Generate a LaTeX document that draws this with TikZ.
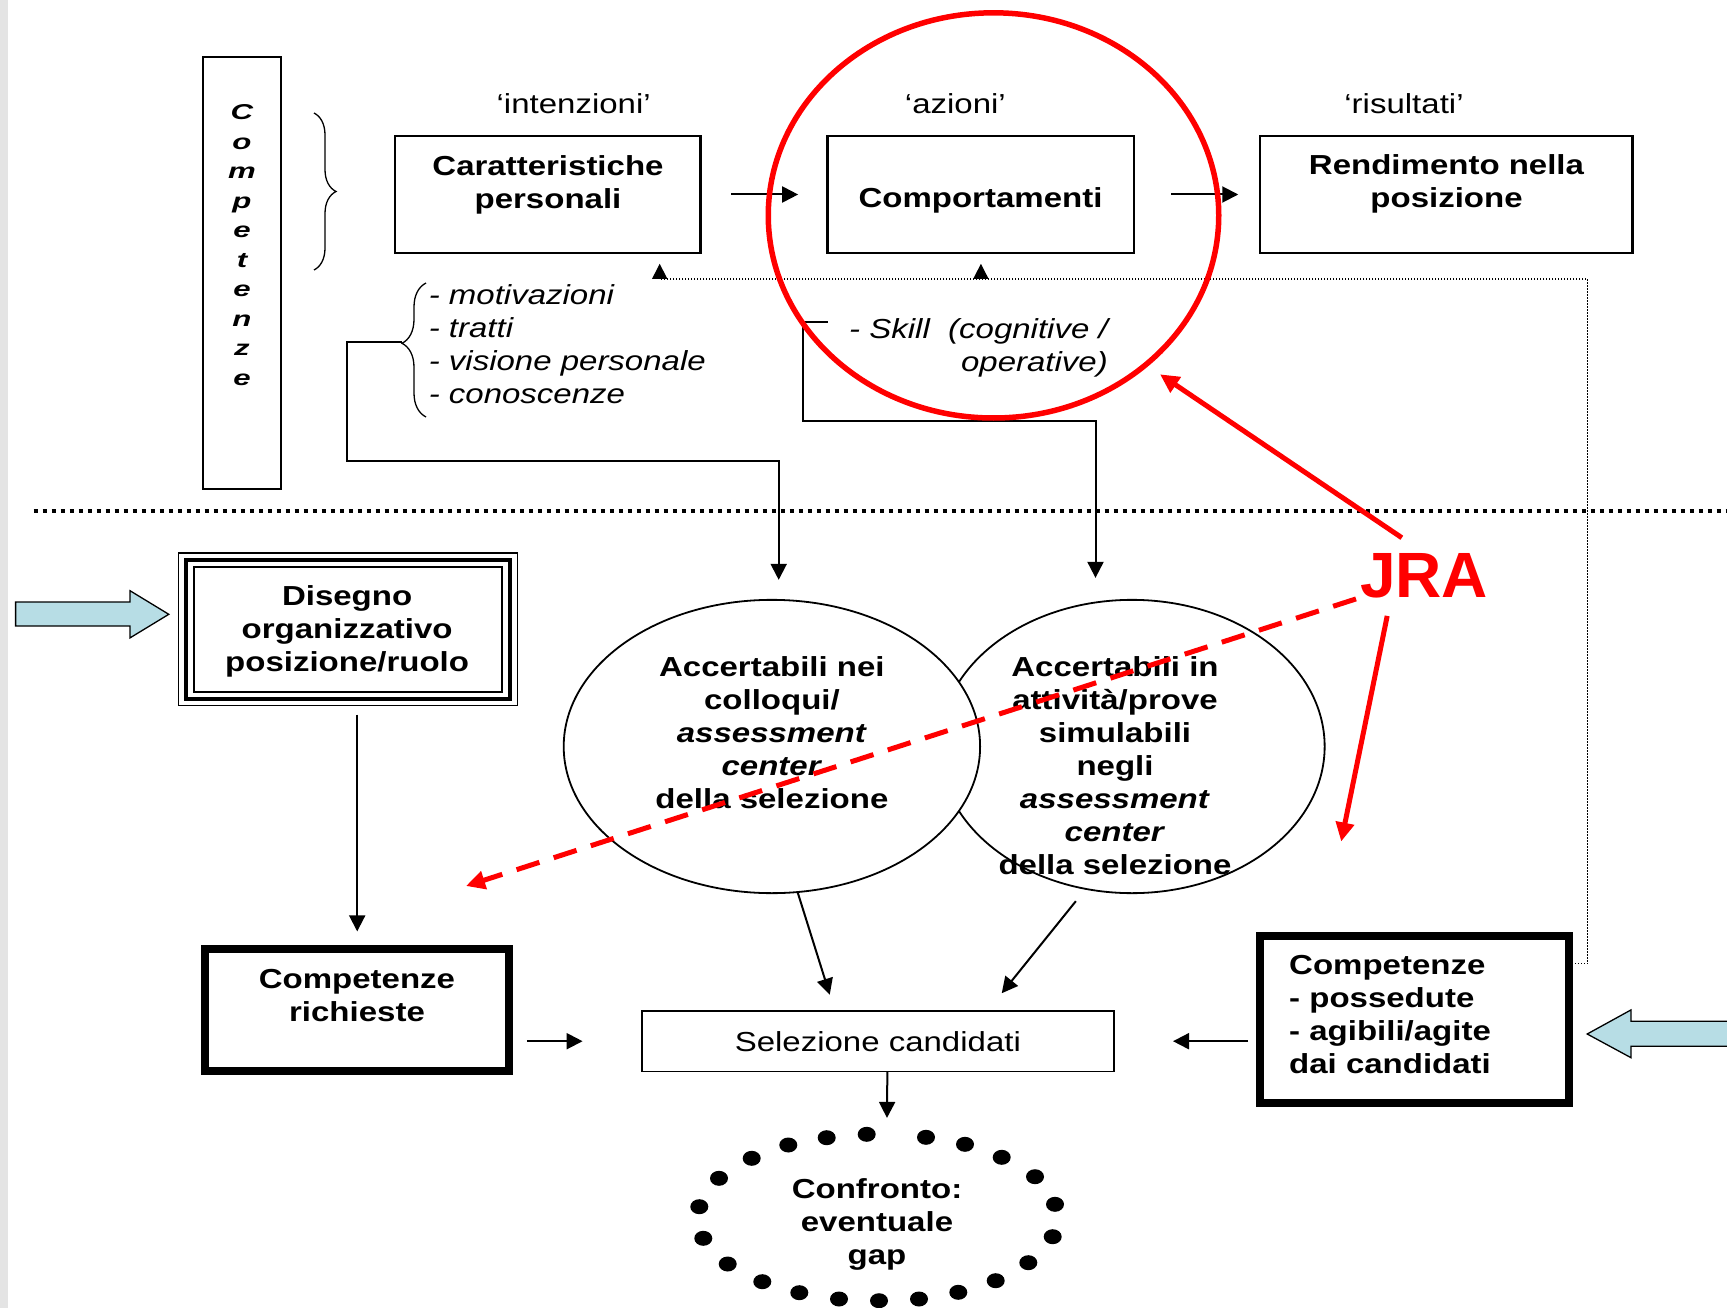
\documentclass[tikz,border=0pt]{standalone}
\usepackage{fontspec}
\setmainfont{Liberation Sans}[FakeStretch=1.2]
\newfontfamily\vertfont{Liberation Sans}[FakeStretch=1.45]
\newfontfamily\jrafont{Liberation Sans}
\usetikzlibrary{arrows.meta,shapes.geometric,decorations.pathreplacing,positioning}
\definecolor{lightblue}{RGB}{183,221,229}
\definecolor{stripgray}{RGB}{228,228,228}
\begin{document}
\begin{tikzpicture}[x=1pt, y=-1pt,
		box/.style={draw, line width=2.4pt, inner sep=0pt, outer sep=0pt},
		fatbox/.style={draw, line width=8pt, inner sep=0pt, outer sep=0pt},
		oval/.style={draw, ellipse, line width=1.8pt, fill=white, inner sep=0pt, outer sep=0pt},
		btxt/.style={font=\fontsize{27.5}{33}\selectfont\bfseries, align=center, inner sep=0pt},
		rtxt/.style={font=\fontsize{27.5}{33}\selectfont, align=center, inner sep=0pt},
		itxt/.style={font=\fontsize{27.5}{33}\selectfont\itshape, inner sep=0pt},
		arr/.style={line width=2pt, -{Triangle[length=16pt, width=16pt]}},
		redarr/.style={red, line width=5pt, -{Triangle[length=19pt, width=18pt]}},
		fbline/.style={line width=1.3pt, dash pattern=on 1.3pt off 1.7pt},
		blockarrow/.style={draw, line width=1.3pt, fill=lightblue}]
		\useasboundingbox (0,0) rectangle (1727,1308);
		\fill[stripgray] (0,0) rectangle (7.5,1308);
		\draw[line width=4pt, dash pattern=on 4pt off 5pt] (33.5,511) -- (1727,511);

		\node[box, line width=2pt, minimum width=78.4pt, minimum height=432pt] (comp) at (241.8,273) {};
		\node[font=\vertfont\bfseries\itshape\fontsize{21.5}{29.5}\selectfont, align=center, inner sep=0pt] (comptxt) at (242,245) {C\\o\\m\\p\\e\\t\\e\\n\\z\\e};
		\draw[decorate, decoration={brace, amplitude=22pt}, line width=1.3pt] (314,113) -- (314,270);

		\node[rtxt] (intz) at (573.7,104) {‘intenzioni’};
		\node[rtxt] (azio) at (955.4,104) {‘azioni’};
		\node[rtxt] (risu) at (1404,104) {‘risultati’};

		\node[box, minimum width=305.4pt, minimum height=116.6pt] (car) at (547.7,194.5) {};
		\node[btxt] (cartxt) at (548,184.5) {Caratteristiche\\personali};
		\node[box, minimum width=306.7pt, minimum height=116.6pt] (compo) at (980.9,194.5) {};
		\node[btxt] (compotxt) at (980.5,200.4) {Comportamenti};
		\node[box, minimum width=372.9pt, minimum height=116.6pt] (rend) at (1446.2,194.5) {};
		\node[btxt] (rendtxt) at (1446.5,183.5) {Rendimento nella\\posizione};
		\draw[arr, shorten <=31pt, shorten >=29.4pt] (car.east) -- (compo.west);
		\draw[arr, shorten <=37pt, shorten >=21.5pt] (compo.east) -- (rend.west);

		\draw[decorate, decoration={brace, amplitude=24pt, aspect=0.55}, line width=1.3pt] (426,417) -- (426,283);
		\coordinate (lb) at (402,342);
		\node[itxt, align=left, anchor=west] (traits) at (428.6,344.6) {- motivazioni\\- tratti\\- visione personale\\- conoscenze};
		\node[itxt, align=right, anchor=east] (skill) at (1108,347.7) {- Skill\ \ (cognitive /\\operative)};
		\coordinate (sk) at (827.7,321.7);

		\node[oval, minimum width=385.3pt, minimum height=293.3pt] (acc2) at (1132,746.5) {};
		\node[oval, minimum width=416.4pt, minimum height=293.3pt] (acc1) at (771.9,746.5) {};
		\node[btxt] (acc1txt) at (771.9,732.9) {Accertabili nei\\colloqui/\\\textit{assessment}\\\textit{center}\\della selezione};
		\node[btxt] (acc2txt) at (1115,765.9) {Accertabili in\\attività/prove\\simulabili\\negli\\\textit{assessment}\\\textit{center}\\della selezione};
		\draw[arr, shorten >=20pt] (lb) -- (346.5,342) |- (778.7,460.7) -- ([xshift=6.8pt]acc1.north);
		\draw[arr, shorten >=22pt] (sk) -- (802.8,321.7) |- (1095.5,420.7) -- ([xshift=-36.5pt]acc2.north);

		\node[draw, line width=1.5pt, inner sep=0pt, outer sep=0pt, minimum width=338.8pt, minimum height=152.9pt] (dis) at (347.85,629.2) {};
		\draw[line width=4pt] ([shift={(7.5,7)}]dis.north west) rectangle ([shift={(-7.5,-7)}]dis.south east);
		\draw[line width=1.8pt] ([shift={(15.5,14)}]dis.north west) rectangle ([shift={(-15.5,-14)}]dis.south east);
		\node[btxt] (distxt) at (347.1,631.7) {Disegno\\organizzativo\\posizione/ruolo};
		\draw[blockarrow] (15.6,602) -- (130,602) -- (130,590.7) -- (168.8,614.3) -- (130,637.9) -- (130,626) -- (15.6,626) -- cycle;

		\node[fatbox, minimum width=304.4pt, minimum height=122pt] (req) at (357.2,1010) {};
		\node[btxt] (reqtxt) at (357,995.3) {Competenze\\richieste};
		\node[draw, line width=1.6pt, inner sep=0pt, outer sep=0pt, minimum width=472.1pt, minimum height=60.7pt, rtxt] (sel) at (877.85,1041.2) {Selezione candidati};
		\node[fatbox, minimum width=309.5pt, minimum height=167pt] (poss) at (1414.25,1019.5) {};
		\node[btxt, align=left, anchor=west] (posstxt) at (1289,1015) {Competenze\\- possedute\\- agibili/agite\\dai candidati};
		\draw[blockarrow] (1745,1021.3) -- (1631,1021.3) -- (1631,1009.9) -- (1587.2,1034) -- (1631,1057.7) -- (1631,1046.2) -- (1745,1046.2) -- cycle;

		\coordinate (confc) at (877,1217.5);
		\node[btxt] (conf) at (877,1224.3) {Confronto:\\eventuale\\gap};
		\foreach \dx/\dy in {-125.3/-59.2, -88.7/-72.5, -50.3/-79.8, -10.3/-83.2, 49/-80.2, 88/-73.2, 124.7/-60.2, 158/-40.8, 178/-13.2, 175.7/19.2, 151.3/45.2, 118.7/63.2, 81.3/74.8, 42/81.5, 2/83.2, -38/81.5, -77.7/75.2, -114.7/64.2, -149.3/46.5, -173.7/20.8, -177.7/-10.8, -158/-39.2}
			\fill ([shift={(\dx,\dy)}]confc) ellipse [x radius=9, y radius=7.5];

		\draw[arr, shorten <=9pt, shorten >=17.6pt] (dis.south -| req.north) -- (req.north);
		\draw[arr, shorten <=17.4pt, shorten >=59.2pt] (req.east |- sel.west) -- (sel.west);
		\draw[arr, shorten <=11.5pt, shorten >=59.1pt] (poss.west |- sel.east) -- (sel.east);
		\draw[arr, shorten >=17pt] (acc1.-80) -- ([xshift=-43pt]sel.north);
		\draw[arr, shorten <=15.8pt, shorten >=22.6pt] (acc2.252) -- ([xshift=109.7pt]sel.north);
		\draw[arr, shorten >=60.3pt] ([xshift=9.5pt]sel.south) -- ([xshift=9.5pt]conf.north);

		\coordinate (fbr) at (1587.7,279);
		\coordinate (fbl) at (659.7,279);
		\draw[fbline] ([yshift=55.7pt]poss.east) -| (fbr) -- (fbl);
		\draw[fbline, -{Triangle[length=15pt, width=15pt]}, shorten >=11pt] (fbl) -- (fbl |- car.south);
		\draw[fbline, -{Triangle[length=15pt, width=15pt]}, shorten >=11pt] (compo.south |- fbl) -- (compo.south);

		\node[draw=red, ellipse, line width=5.5pt, inner sep=0pt, outer sep=0pt, minimum width=450.5pt, minimum height=405.2pt] (jrc) at (993.5,215.4) {};
		\node[font=\jrafont\bfseries\fontsize{64}{64}\selectfont, text=red, inner sep=0pt] (jra) at (1424.2,575.4) {JRA};
		\coordinate (jrtip) at (1160,374.3);
		\coordinate (jrtip2) at (1341.2,841.5);
		\coordinate (jrtip3) at (466,886);
		\draw[redarr, shorten <=27pt] (jra.north) -- (jrtip);
		\draw[redarr] ([shift={(-37,18)}]jra.south) -- (jrtip2);
		\draw[redarr, dash pattern=on 24pt off 15pt] ([shift={(-4,1)}]jra.south west) -- (jrtip3);
	\end{tikzpicture}
\end{document}
